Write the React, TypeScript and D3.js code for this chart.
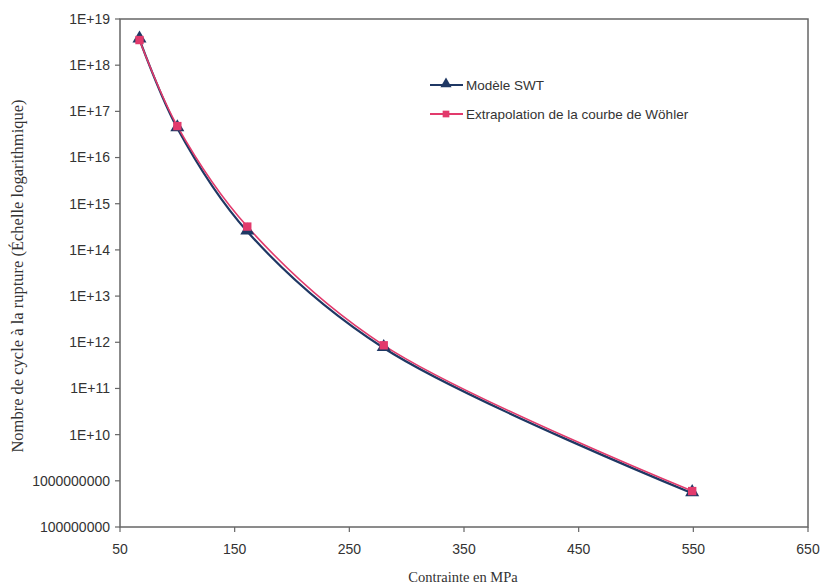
import React from "react";
import * as d3 from "d3";

const stress = [67, 100, 161, 280, 549];
const swtCycles = [3.6e18, 4.3e16, 2.5e14, 7.5e11, 5.4e8];
const wohlerCycles = [3.5e18, 4.8e16, 3.2e14, 8.6e11, 6.0e8];
const xTicks = [50, 150, 250, 350, 450, 550, 650];
const yTicks = [1e8, 1e9, 1e10, 1e11, 1e12, 1e13, 1e14, 1e15, 1e16, 1e17, 1e18, 1e19];
const yTickLabels = ["100000000", "1000000000", "1E+10", "1E+11", "1E+12", "1E+13", "1E+14", "1E+15", "1E+16", "1E+17", "1E+18", "1E+19"];
const seriesNames = ["Modèle SWT", "Extrapolation de la courbe de Wöhler"];

const W = 825, H = 585;
const left = 120, right = 808, top = 19, bottom = 527;
const navy = "#1f3864";
const pink = "#e23a6c";
const axisCol = "#666";

export default function App() {
  const x = d3.scaleLinear().domain([50, 650]).range([left, right]);
  const y = d3.scaleLog().domain([1e8, 1e19]).range([bottom, top]);
  const line = d3
    .line<number>()
    .x((_, i) => x(stress[i]))
    .y((d) => y(d))
    .curve(d3.curveCatmullRom.alpha(0.5));
  const tri = d3.symbol().type(d3.symbolTriangle).size(85)();
  const sq = d3.symbol().type(d3.symbolSquare).size(70)();
  const sans = "'Liberation Sans', Arial, sans-serif";
  const serif = "'Liberation Serif', 'Times New Roman', serif";

  return (
    <svg width={W} height={H} style={{ position: "absolute", left: 0, top: 0, background: "#fff" }}>
      <rect x={0} y={0} width={W} height={H} fill="#fff" />
      <rect x={left} y={top} width={right - left} height={bottom - top} fill="none" stroke={axisCol} strokeWidth={1.5} />
      {yTicks.map((t, i) => (
        <g key={"y" + i}>
          <line x1={left - 5} x2={left} y1={y(t)} y2={y(t)} stroke={axisCol} strokeWidth={1.2} />
          <text x={left - 10} y={y(t)} dy="0.35em" textAnchor="end" fontFamily={sans} fontSize={14} fill="#333">
            {yTickLabels[i]}
          </text>
        </g>
      ))}
      {xTicks.map((t, i) => (
        <g key={"x" + i}>
          <line x1={x(t)} x2={x(t)} y1={bottom} y2={bottom + 5} stroke={axisCol} strokeWidth={1.2} />
          <text x={x(t)} y={bottom + 27} textAnchor="middle" fontFamily={sans} fontSize={14} fill="#333">
            {t}
          </text>
        </g>
      ))}
      <text x={463} y={582} textAnchor="middle" fontFamily={serif} fontSize={14.5} fill="#333">
        Contrainte en MPa
      </text>
      <text
        transform={`translate(23, 276) rotate(-90)`}
        textAnchor="middle"
        fontFamily={serif}
        fontSize={16.5}
        fill="#333"
      >
        Nombre de cycle à la rupture (Échelle logarithmique)
      </text>
      <path d={line(swtCycles) || ""} fill="none" stroke={navy} strokeWidth={2.2} />
      <path d={line(wohlerCycles) || ""} fill="none" stroke={pink} strokeWidth={1.6} />
      {swtCycles.map((v, i) => (
        <path key={"t" + i} d={tri || ""} transform={`translate(${x(stress[i])},${y(v) - 1})`} fill={navy} />
      ))}
      {wohlerCycles.map((v, i) => (
        <path key={"s" + i} d={sq || ""} transform={`translate(${x(stress[i])},${y(v)})`} fill={pink} />
      ))}
      <g>
        <line x1={430} x2={463} y1={85} y2={85} stroke={navy} strokeWidth={2} />
        <path d={tri || ""} transform="translate(446,84) scale(0.8)" fill={navy} />
        <text x={466} y={85} dy="0.35em" fontFamily={sans} fontSize={13.5} fill="#333">
          {seriesNames[0]}
        </text>
        <line x1={430} x2={463} y1={114} y2={114} stroke={pink} strokeWidth={2} />
        <path d={sq || ""} transform="translate(446,114) scale(0.8)" fill={pink} />
        <text x={466} y={114} dy="0.35em" fontFamily={sans} fontSize={13.5} fill="#333">
          {seriesNames[1]}
        </text>
      </g>
    </svg>
  );
}
